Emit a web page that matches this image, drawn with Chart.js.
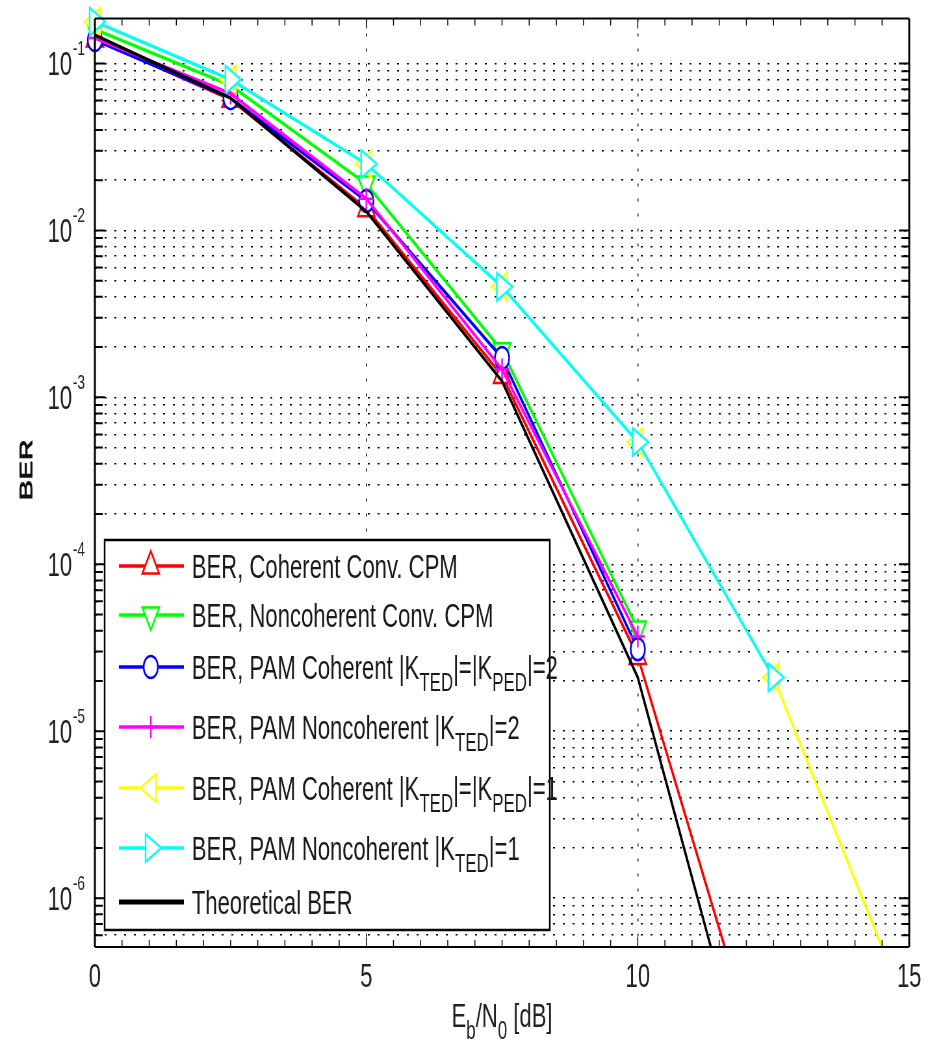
<!DOCTYPE html>
<html>
<head>
<meta charset="utf-8">
<script src="https://cdn.jsdelivr.net/npm/chart.js@4.4.1/dist/chart.umd.min.js"></script>
<style>
html, body { margin: 0; padding: 0; background: #fff; overflow: hidden; }
#berChart { display: block; width: 928px !important; height: 1045px !important; }
</style>
</head>
<body>
<!-- drawn 1428 wide and squeezed to 928, the source figure is squashed sideways -->
<canvas id="berChart" width="1428" height="1045" style="width:928px;height:1045px"></canvas>
<script>

var ebn0 = [0, 2.5, 5, 7.5, 10, 12.5, 15];

var berCohConv    = [0.140, 0.061, 0.0135, 0.00135, 2.8e-5, 5.4e-8];
var berNoncohConv = [0.160, 0.074, 0.019, 0.0019, 4.1e-5];
var berPamCoh2    = [0.138, 0.062, 0.015, 0.00172, 3.1e-5];
var berPamNoncoh2 = [0.142, 0.066, 0.0155, 0.00147, 3.7e-5];
var berPamCoh1    = [0.177, 0.080, 0.025, 0.0046, 5.4e-4, 2.1e-5, 2.0e-7];
var berPamNoncoh1 = [0.178, 0.080, 0.025, 0.0046, 5.4e-4, 2.1e-5];
var berTheory     = [0.148, 0.062, 0.013, 0.00125, 2.1e-5, 2.1e-8];

var xTicks = [0, 5, 10, 15];
var yDecades = [-1, -2, -3, -4, -5, -6];
var yMin = 5.1e-7, yMax = 0.186;

var legendLabels = [
    [['BER, Coherent Conv. CPM']],
    [['BER, Noncoherent Conv. CPM']],
    [['BER, PAM Coherent |K'], ['TED', 1], ['|=|K'], ['PED', 1], ['|=2']],
    [['BER, PAM Noncoherent |K'], ['TED', 1], ['|=2']],
    [['BER, PAM Coherent |K'], ['TED', 1], ['|=|K'], ['PED', 1], ['|=1']],
    [['BER, PAM Noncoherent |K'], ['TED', 1], ['|=1']],
    [['Theoretical BER']]
];

var FONT = '"Liberation Sans", Arial, Helvetica, sans-serif';

function pts(arr) {
    return arr.map(function (v, i) { return {x: ebn0[i], y: v}; });
}

function series(label, arr, color, style, rot, radius) {
    return {
        label: label,
        data: pts(arr),
        borderColor: color,
        backgroundColor: color,
        borderWidth: 3.5,
        pointStyle: style,
        pointRotation: rot,
        pointRadius: radius,
        pointBorderColor: color,
        pointBackgroundColor: '#ffffff',
        pointBorderWidth: 2.5,
        tension: 0,
        clip: {left: 30, top: 30, right: 0, bottom: 0}
    };
}

var datasets = [
    series('red', berCohConv, '#ff0000', 'triangle', 0, 15),
    series('green', berNoncohConv, '#00ff00', 'triangle', 180, 15),
    series('blue', berPamCoh2, '#0000ff', 'circle', 0, 11),
    series('magenta', berPamNoncoh2, '#ff00ff', 'cross', 0, 11),
    series('yellow', berPamCoh1, '#ffff00', 'triangle', 270, 16),
    series('cyan', berPamNoncoh1, '#00ffff', 'triangle', 90, 16),
    series('black', berTheory, '#000000', false, 0, 0)
];
// later series on top, like matlab
datasets.forEach(function (d, i) { d.order = datasets.length - i; });

function logTicks() {
    var out = [];
    for (var e = -7; e <= 0; e++) {
        for (var m = 1; m <= 9; m++) {
            var v = m * Math.pow(10, e);
            if (v > yMin && v < yMax) out.push(v);
        }
    }
    return out;
}

function drawRich(ctx, segs, x, y, size) {
    segs.forEach(function (s) {
        var sub = s[1];
        ctx.font = (sub ? Math.round(size * 0.76) : size) + 'px ' + FONT;
        ctx.fillText(s[0], x, sub ? y + 12 : y);
        x += ctx.measureText(s[0]).width;
    });
}

var matlabLook = {
    id: 'matlabLook',
    afterDatasetsDraw: function (chart) {
        var ctx = chart.ctx;
        var a = chart.chartArea;
        var xs = chart.scales.x, ys = chart.scales.y;
        ctx.save();

        // legend box
        var box = {l: 161, r: 846, t: 540, b: 930};
        var rowY = [566, 615, 667, 727, 788, 848, 902];
        ctx.fillStyle = '#ffffff';
        ctx.fillRect(box.l, box.t, box.r - box.l, box.b - box.t);
        ctx.strokeStyle = '#000';
        ctx.lineWidth = 2.5;
        ctx.strokeRect(box.l, box.t, box.r - box.l, box.b - box.t);
        datasets.forEach(function (d, i) {
            var y = rowY[i];
            ctx.strokeStyle = d.borderColor;
            ctx.lineWidth = i == 6 ? 5 : 3.5;
            ctx.beginPath();
            ctx.moveTo(183, y);
            ctx.lineTo(283, y);
            ctx.stroke();
            if (d.pointStyle) {
                ctx.fillStyle = '#ffffff';
                ctx.lineWidth = d.pointBorderWidth;
                Chart.helpers.drawPoint(ctx, {
                    pointStyle: d.pointStyle, rotation: d.pointRotation,
                    radius: d.pointRadius, borderWidth: d.pointBorderWidth
                }, 232, y);
            }
            ctx.fillStyle = '#1a1a1a';
            ctx.textAlign = 'left';
            ctx.textBaseline = 'alphabetic';
            drawRich(ctx, legendLabels[i], 295, y + 12, 34);
        });

        // frame
        ctx.strokeStyle = '#000';
        ctx.lineWidth = 2;
        ctx.beginPath();
        ctx.moveTo(a.left, a.top); ctx.lineTo(a.right, a.top);
        ctx.moveTo(a.left, a.bottom); ctx.lineTo(a.right, a.bottom);
        ctx.stroke();
        ctx.lineWidth = 3;
        ctx.beginPath();
        ctx.moveTo(a.left, a.top); ctx.lineTo(a.left, a.bottom);
        ctx.moveTo(a.right, a.top); ctx.lineTo(a.right, a.bottom);
        ctx.stroke();

        // inward ticks
        ctx.lineWidth = 1.5;
        ctx.beginPath();
        for (var t = 0.5; t < 15; t += 0.5) {
            var px = xs.getPixelForValue(t);
            var len = (t % 5 === 0) ? 10 : 7;
            ctx.moveTo(px, a.bottom); ctx.lineTo(px, a.bottom - len);
            ctx.moveTo(px, a.top); ctx.lineTo(px, a.top + len);
        }
        ctx.stroke();
        ctx.lineWidth = 2;
        ctx.beginPath();
        logTicks().forEach(function (v) {
            var py = ys.getPixelForValue(v);
            var major = Math.abs(Math.log10(v) - Math.round(Math.log10(v))) < 1e-6;
            var len = major ? 16 : 12;
            ctx.moveTo(a.left, py); ctx.lineTo(a.left + len, py);
            ctx.moveTo(a.right, py); ctx.lineTo(a.right - len, py);
        });
        ctx.stroke();

        // y tick labels 10^k
        ctx.fillStyle = '#222';
        yDecades.forEach(function (k) {
            var py = ys.getPixelForValue(Math.pow(10, k));
            ctx.font = '34px ' + FONT;
            ctx.textAlign = 'right';
            ctx.textBaseline = 'middle';
            ctx.fillText('10', 111, py + 2);
            ctx.font = '21px ' + FONT;
            ctx.textAlign = 'left';
            ctx.textBaseline = 'alphabetic';
            ctx.fillText('-' + (-k), 112, py - 8);
        });

        // x title
        var xt = [['E'], ['b', 1], ['/N'], ['0', 1], [' [dB]']];
        var w = 0;
        xt.forEach(function (s) {
            ctx.font = (s[1] ? 26 : 34) + 'px ' + FONT;
            w += ctx.measureText(s[0]).width;
        });
        ctx.textAlign = 'left';
        ctx.textBaseline = 'alphabetic';
        drawRich(ctx, xt, (a.left + a.right) / 2 - w / 2, 1027, 34);

        // y title
        ctx.translate(42, 470);
        ctx.rotate(-Math.PI / 2);
        ctx.font = 'bold 29px ' + FONT;
        ctx.textAlign = 'center';
        ctx.textBaseline = 'middle';
        ctx.fillStyle = '#111';
        ctx.fillText('BER', 0, 0);
        ctx.restore();
    }
};

var ctx = document.getElementById('berChart').getContext('2d');
var berChart = new Chart(ctx, {
    type: 'line',
    data: { datasets: datasets },
    options: {
        responsive: false,
        animation: false,
        events: [],
        layout: { padding: { left: 0, right: 25, top: 18, bottom: 0 } },
        plugins: {
            legend: { display: false },
            tooltip: { enabled: false }
        },
        scales: {
            x: {
                type: 'linear',
                min: 0,
                max: 15,
                afterBuildTicks: function (scale) {
                    scale.ticks = xTicks.map(function (v) { return {value: v}; });
                },
                afterFit: function (scale) { scale.height = 98; },
                grid: { color: '#000', lineWidth: 1.5, drawTicks: false },
                border: { display: false, dash: [3, 12] },
                ticks: {
                    font: { family: FONT, size: 34 },
                    color: '#222',
                    padding: 10,
                    maxRotation: 0,
                    autoSkip: false
                }
            },
            y: {
                type: 'logarithmic',
                min: yMin,
                max: yMax,
                afterBuildTicks: function (scale) {
                    scale.ticks = logTicks().map(function (v) { return {value: v}; });
                },
                afterFit: function (scale) { scale.width = 146; },
                grid: { color: '#000', lineWidth: 1.6, drawTicks: false },
                border: { display: false, dash: [3, 12] },
                ticks: { display: false }
            }
        }
    },
    plugins: [matlabLook]
});

</script>
</body>
</html>
